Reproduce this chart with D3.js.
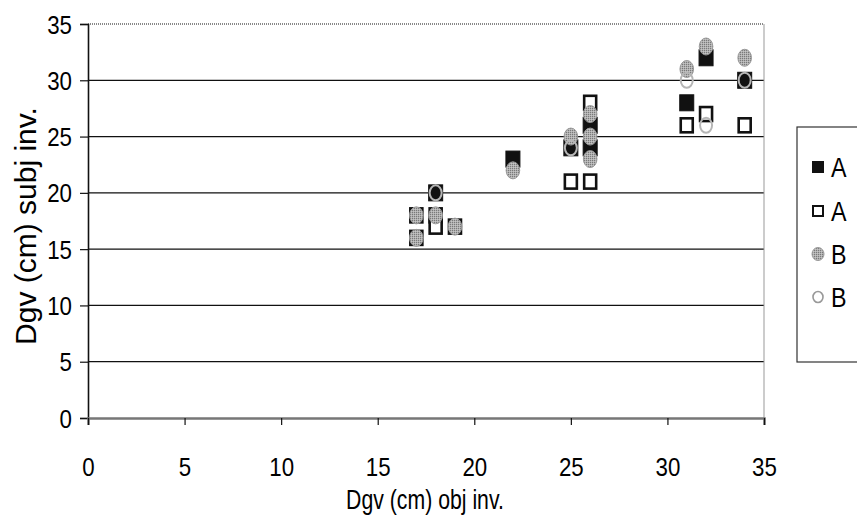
<!DOCTYPE html>
<html><head><meta charset="utf-8">
<script src="https://cdn.jsdelivr.net/npm/d3@7"></script>
<style>
body{margin:0;background:#fff}
svg{display:block}
text{font-family:"Liberation Sans",Arial,sans-serif;fill:#000}
</style>
</head><body>
<svg id="c" width="857" height="523"></svg>
<script>
// ---- data ----
const xTickValues = [0, 5, 10, 15, 20, 25, 30, 35];
const yTickValues = [0, 5, 10, 15, 20, 25, 30, 35];
const xTitle = "Dgv (cm) obj inv.";
const yTitle = "Dgv (cm) subj inv.";
const legendLabels = ["A", "A", "B", "B"];

// series 1: A, filled black squares
const aFilledX = [18, 22, 25, 26, 26, 31, 32, 34];
const aFilledY = [20, 23, 24, 26, 24, 28, 32, 30];
// series 2: A, open squares
const aOpenX = [17, 17, 18, 18, 19, 25, 26, 26, 31, 32, 34];
const aOpenY = [18, 16, 18, 17, 17, 21, 21, 28, 26, 27, 26];
// series 3: B, grey filled circles
const bFilledX = [17, 17, 18, 19, 22, 25, 26, 26, 26, 31, 32, 34];
const bFilledY = [18, 16, 18, 17, 22, 25, 27, 25, 23, 31, 33, 32];
// series 4: B, open circles
const bOpenX = [18, 25, 31, 32, 34];
const bOpenY = [20, 24, 30, 26, 30];

// ---- layout ----
const svg = d3.select("#c");
const L = 88, R = 764, T = 24, B = 418;
const x = d3.scaleLinear().domain([0, 35]).range([L, R]);
const y = d3.scaleLinear().domain([0, 35]).range([B, T]);

// stipple pattern for grey markers
const defs = svg.append("defs");
const pat = defs.append("pattern").attr("id", "stip").attr("patternUnits", "userSpaceOnUse")
  .attr("width", 2).attr("height", 2);
pat.append("rect").attr("width", 2).attr("height", 2).attr("fill", "#b0b0b0");
pat.append("rect").attr("width", 1).attr("height", 1).attr("fill", "#7a7a7a");
pat.append("rect").attr("x", 1).attr("y", 1).attr("width", 1).attr("height", 1).attr("fill", "#c4c4c4");

// gridlines
svg.append("g").selectAll("line")
  .data(yTickValues.filter(v => v > 0 && v < 35))
  .join("line")
  .attr("x1", L).attr("x2", R)
  .attr("y1", d => y(d)).attr("y2", d => y(d))
  .attr("stroke", "#111").attr("stroke-width", 1.2);

// top border (gray) and right border
svg.append("line").attr("x1", L).attr("x2", R).attr("y1", y(35)).attr("y2", y(35))
  .attr("stroke", "#888").attr("stroke-width", 2).attr("stroke-dasharray", "1,1");
svg.append("line").attr("x1", R).attr("x2", R).attr("y1", T).attr("y2", B)
  .attr("stroke", "#999").attr("stroke-width", 1);

// axes
const sx = 0.97, sy = 1.12;
const yAxis = svg.append("g").attr("transform", `translate(${L},0)`)
  .call(d3.axisLeft(y).tickValues(yTickValues).tickSize(8).tickPadding(8).tickFormat(d3.format("d")));
yAxis.select(".domain").attr("stroke", "#111").attr("stroke-width", 1.6);
yAxis.selectAll(".tick line").attr("stroke", "#111").attr("stroke-width", 1.2);
yAxis.selectAll(".tick text")
  .attr("x", 0).attr("dy", null)
  .attr("font-size", 23).attr("font-family", '"Liberation Sans",Arial,sans-serif')
  .attr("dominant-baseline", "central")
  .attr("transform", `translate(-16,0) scale(${sx},${sy})`);

const xAxis = svg.append("g").attr("transform", `translate(0,${B})`)
  .call(d3.axisBottom(x).tickValues(xTickValues).tickSize(7).tickPadding(0).tickFormat(d3.format("d")));
xAxis.select(".domain").attr("stroke", "#777").attr("stroke-width", 2.5);
xAxis.selectAll(".tick line").attr("stroke", "#111").attr("stroke-width", 1.2);
xAxis.selectAll(".tick text")
  .attr("y", 0).attr("dy", null)
  .attr("font-size", 23).attr("font-family", '"Liberation Sans",Arial,sans-serif')
  .attr("dominant-baseline", "central")
  .attr("transform", `translate(0,49) scale(${sx},${sy})`);

// titles
svg.append("text")
  .attr("transform", `translate(425,509) scale(0.85,1.12)`)
  .attr("text-anchor", "middle").attr("font-size", 25).text(xTitle);
svg.append("text")
  .attr("transform", `translate(36,226) rotate(-90)`)
  .attr("text-anchor", "middle").attr("font-size", 30).text(yTitle);

// markers
const hw = 7, hh = 8;
function pts(xs, ys) { return xs.map((v, i) => [v, ys[i]]); }
const gm = svg.append("g");
gm.selectAll("rect.af").data(pts(aFilledX, aFilledY)).join("rect").attr("class", "af")
  .attr("x", d => x(d[0]) - hw).attr("y", d => y(d[1]) - hh)
  .attr("width", hw * 2).attr("height", hh * 2)
  .attr("fill", "#111").attr("stroke", "#111").attr("stroke-width", 1);
gm.selectAll("rect.ao").data(pts(aOpenX, aOpenY)).join("rect").attr("class", "ao")
  .attr("x", d => x(d[0]) - hw + 1).attr("y", d => y(d[1]) - hh + 1)
  .attr("width", hw * 2 - 2).attr("height", hh * 2 - 2)
  .attr("fill", "#fff").attr("stroke", "#111").attr("stroke-width", 2.6);
gm.selectAll("ellipse.bf").data(pts(bFilledX, bFilledY)).join("ellipse").attr("class", "bf")
  .attr("cx", d => x(d[0])).attr("cy", d => y(d[1]))
  .attr("rx", 6.8).attr("ry", 8.5)
  .attr("fill", "url(#stip)").attr("stroke", "#999").attr("stroke-width", 1);
gm.selectAll("ellipse.bo").data(pts(bOpenX, bOpenY)).join("ellipse").attr("class", "bo")
  .attr("cx", d => x(d[0])).attr("cy", d => y(d[1]))
  .attr("rx", 6).attr("ry", 7.5)
  .attr("fill", "none").attr("stroke", "#b5b5b5").attr("stroke-width", 2);

// legend
const lg = svg.append("g");
lg.append("rect").attr("x", 797).attr("y", 127).attr("width", 80).attr("height", 235)
  .attr("fill", "#fff").attr("stroke", "#333").attr("stroke-width", 1.2);
const legY = [167, 211, 254, 297];
const items = lg.selectAll("g.it").data(legendLabels).join("g").attr("class", "it")
  .attr("transform", (d, i) => `translate(818,${legY[i]})`);
items.each(function (d, i) {
  const g = d3.select(this);
  if (i === 0) g.append("rect").attr("x", -6).attr("y", -6).attr("width", 12).attr("height", 12).attr("fill", "#111");
  if (i === 1) g.append("rect").attr("x", -5).attr("y", -5).attr("width", 10).attr("height", 10).attr("fill", "#fff").attr("stroke", "#111").attr("stroke-width", 2);
  if (i === 2) g.append("ellipse").attr("rx", 6).attr("ry", 6.5).attr("fill", "url(#stip)").attr("stroke", "#999");
  if (i === 3) g.append("ellipse").attr("rx", 5).attr("ry", 5.5).attr("fill", "none").attr("stroke", "#999").attr("stroke-width", 1.6);
  g.append("text").attr("transform", `translate(13,0) scale(${sx},${sy})`)
    .attr("dominant-baseline", "central").attr("font-size", 24).text(d);
});
</script>
</body></html>
